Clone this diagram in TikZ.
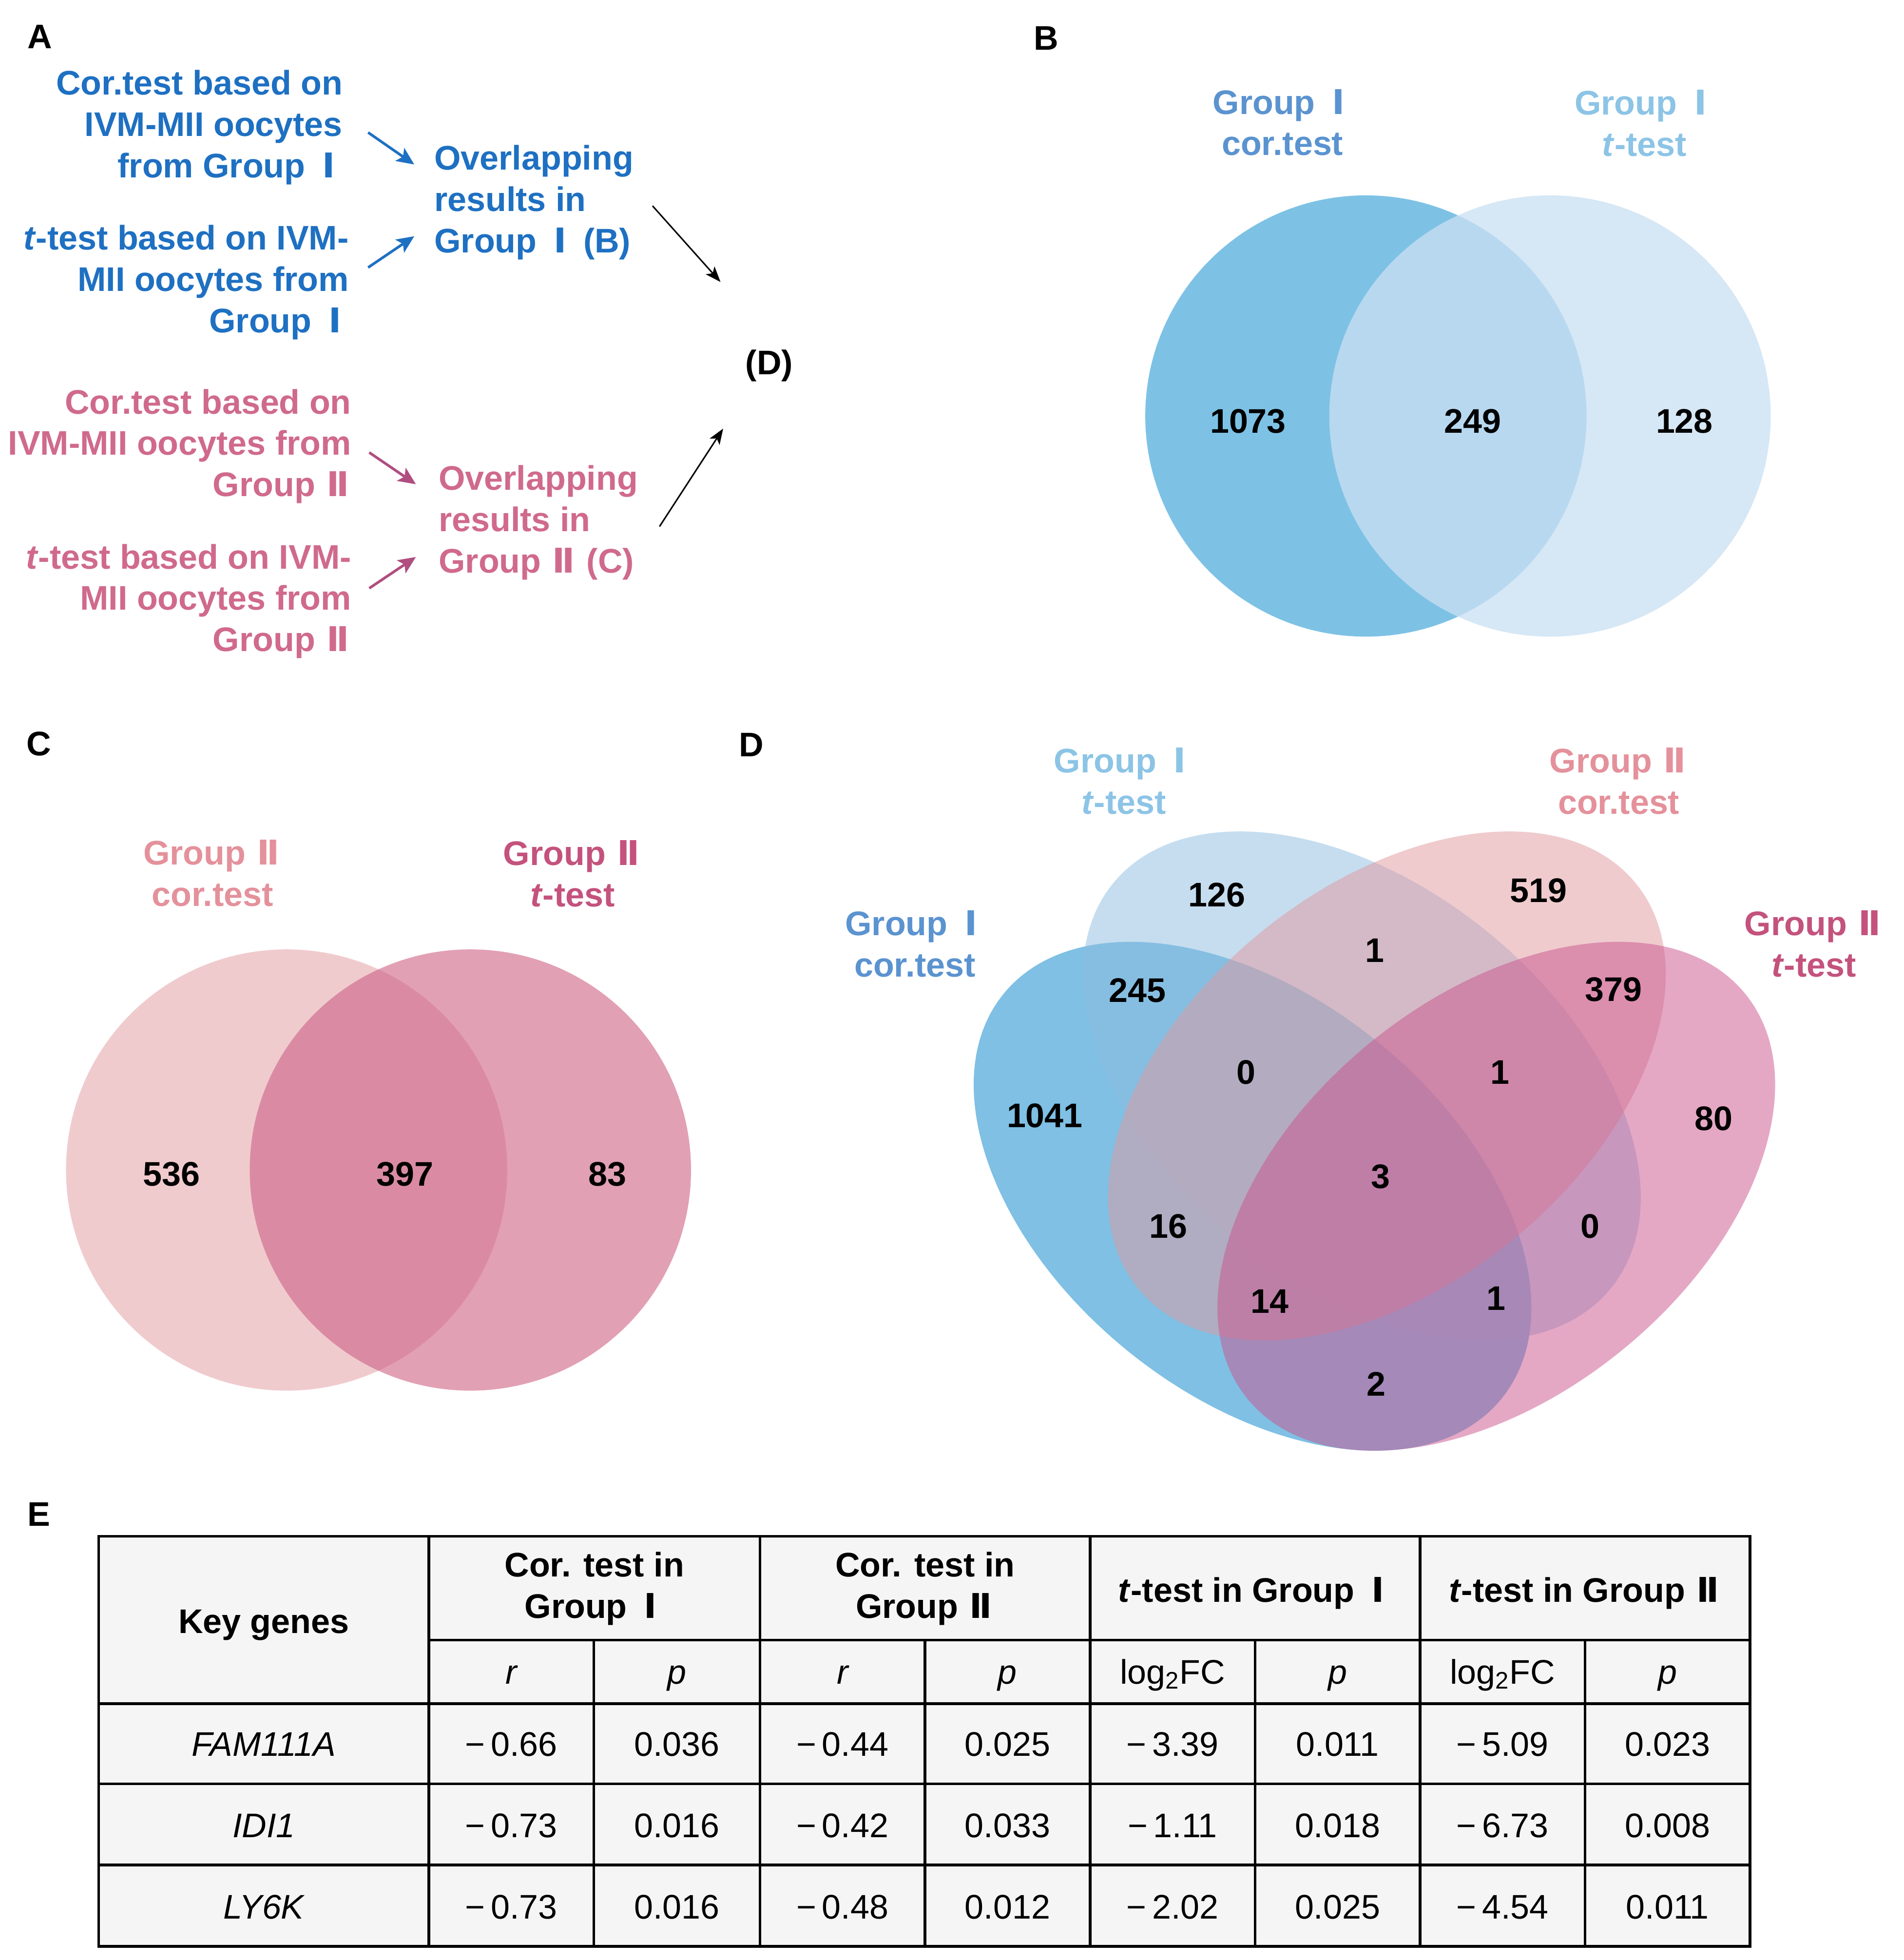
\documentclass[tikz,border=0pt]{standalone}
\usepackage{fontspec}
\setmainfont{Liberation Sans}
\newfontfamily\romfont{DejaVu Sans}
\usetikzlibrary{arrows.meta}
\newcommand{\romI}{\kern0.22em{\romfont Ⅰ}\kern0.22em}
\newcommand{\romII}{\kern0.06em{\romfont Ⅱ}\kern0.06em}
\definecolor{txtblue}{RGB}{30,112,194}
\definecolor{txtpink}{RGB}{208,106,140}
\definecolor{arrpink}{RGB}{176,78,128}
\definecolor{labblue}{RGB}{91,147,208}
\definecolor{lablight}{RGB}{140,196,230}
\definecolor{labpinkl}{RGB}{228,145,155}
\definecolor{labpinkd}{RGB}{196,82,125}
\definecolor{bL}{RGB}{125,194,229}
\definecolor{bR}{RGB}{214,231,245}
\definecolor{bO}{RGB}{184,216,239}
\definecolor{cL}{RGB}{240,203,206}
\definecolor{cR}{RGB}{226,160,181}
\definecolor{cO}{RGB}{218,139,163}
\definecolor{dA}{RGB}{0,131,203}
\definecolor{dB}{RGB}{141,189,225}
\definecolor{dC}{RGB}{225,153,159}
\definecolor{dD}{RGB}{203,83,141}
\definecolor{tabbg}{RGB}{245,245,245}
\begin{document}
\begin{tikzpicture}[x=0.6412pt,y=-0.6412pt,
  every node/.style={inner sep=0pt,outer sep=0pt},
  bf/.style={font=\bfseries\fontsize{17.5pt}{21.2pt}\selectfont},
  rg/.style={font=\fontsize{17.5pt}{21.2pt}\selectfont},
  num/.style={bf,text=black},
  arrBlue/.style={draw=txtblue,line width=1.35pt,-{Stealth[length=9pt,width=8pt,inset=2pt]}},
  arrPink/.style={draw=arrpink,line width=1.35pt,-{Stealth[length=9pt,width=8pt,inset=2pt]}},
  arrBlack/.style={draw=black,line width=0.75pt,-{Stealth[length=8pt,width=6pt,inset=2pt]}},
  tline/.style={draw=black,line width=1.4pt},
  cell/.style={rg,anchor=base},
  gene/.style={rg,anchor=base,font=\itshape\fontsize{17.5pt}{21.2pt}\selectfont}]
\fill[white] (0,0) rectangle (1523,1568);
\useasboundingbox (0,0) rectangle (1523,1568);

% ---------- panel letters ----------
\node[bf] (labA) at (31.8,29.6) {A};
\node[bf] (labB) at (836.8,30.6) {B};
\node[bf] (labC) at (31,595) {C};
\node[bf] (labD) at (601,596) {D};
\node[bf] (labE) at (31,1211.4) {E};

% ---------- panel A ----------
\node[bf,text=txtblue,align=right,anchor=east] (a1) at (274,102) {Cor.test based on\\IVM-MII oocytes\\from Group \romI};
\node[bf,text=txtblue,align=right,anchor=east] (a2) at (279,226) {\textit{t}-test based on IVM-\\MII oocytes from\\Group \romI};
\node[bf,text=txtblue,align=left,anchor=west] (b1) at (347.5,162) {Overlapping\\results in\\Group \romI\ (B)};
\node[bf,text=txtpink,align=right,anchor=east] (a3) at (281,357) {Cor.test based on\\IVM-MII oocytes from\\Group \romII};
\node[bf,text=txtpink,align=right,anchor=east] (a4) at (281,481) {\textit{t}-test based on IVM-\\MII oocytes from\\Group \romII};
\node[bf,text=txtpink,align=left,anchor=west] (c1) at (351,418) {Overlapping\\results in\\Group \romII\ (C)};
\node[bf] (d1) at (615.4,292.4) {(D)};

\coordinate (a1o) at (294.5,106);   \coordinate (b1i1) at (331.4,131.6);
\coordinate (a2o) at (294.5,214);   \coordinate (b1i2) at (331.4,189);
\coordinate (a3o) at (295.4,362);   \coordinate (c1i1) at (332.7,387.4);
\coordinate (a4o) at (295.4,470.6); \coordinate (c1i2) at (332.7,445.6);
\coordinate (b1o) at (522,164.7);   \coordinate (d1i1) at (576.4,225.6);
\coordinate (c1o) at (527.6,421.2); \coordinate (d1i2) at (578.5,342.9);
\draw[arrBlue] (a1o) -- (b1i1);
\draw[arrBlue] (a2o) -- (b1i2);
\draw[arrPink] (a3o) -- (c1i1);
\draw[arrPink] (a4o) -- (c1i2);
\draw[arrBlack] (b1o) -- (d1i1);
\draw[arrBlack] (c1o) -- (d1i2);

% ---------- panel B ----------
\fill[bL] (1092.7,332.8) circle (176.5);
\fill[bR] (1240,332.8) circle (176.5);
\begin{scope}
  \clip (1092.7,332.8) circle (176.5);
  \fill[bO] (1240,332.8) circle (176.5);
\end{scope}
\node[bf,text=labblue,align=center] (bl1) at (1026,98) {Group \romI\\cor.test};
\node[bf,text=lablight,align=center] (bl2) at (1315.5,98.5) {Group \romI\\\textit{t}-test};
\node[num] (bn1) at (998.4,337) {1073};
\node[num] (bn2) at (1178,337) {249};
\node[num] (bn3) at (1347.5,337) {128};

% ---------- panel C ----------
\fill[cL] (229.3,936) circle (176.5);
\fill[cR] (376.3,936) circle (176.5);
\begin{scope}
  \clip (229.3,936) circle (176.5);
  \fill[cO] (376.3,936) circle (176.5);
\end{scope}
\node[bf,text=labpinkl,align=center] (cl1) at (170,698.5) {Group \romII\\cor.test};
\node[bf,text=labpinkd,align=center] (cl2) at (458,699) {Group \romII\\\textit{t}-test};
\node[num] (cn1) at (137.2,939.5) {536};
\node[num] (cn2) at (323.8,939.5) {397};
\node[num] (cn3) at (486,939.5) {83};

% ---------- panel D ----------
\begin{scope}[fill opacity=0.5]
  \fill[dA,shift={(1002,957)},rotate=-39.1] (0,0) ellipse [x radius=256.7,y radius=159];
  \fill[dB,shift={(1089.5,868.7)},rotate=-39.1] (0,0) ellipse [x radius=256.7,y radius=159];
  \fill[dC,shift={(1109.5,868.7)},rotate=39.1] (0,0) ellipse [x radius=256.7,y radius=159];
  \fill[dD,shift={(1197,957)},rotate=39.1] (0,0) ellipse [x radius=256.7,y radius=159];
\end{scope}
\node[bf,text=lablight,align=center] (dl2) at (899,625) {Group \romI\\\textit{t}-test};
\node[bf,text=labpinkl,align=center] (dl3) at (1295,625) {Group \romII\\cor.test};
\node[bf,text=labblue,align=center] (dl1) at (732,755) {Group \romI\\cor.test};
\node[bf,text=labpinkd,align=center] (dl4) at (1451,755) {Group \romII\\\textit{t}-test};
\node[num] (dn1) at (973.3,715.8) {126};
\node[num] (dn2) at (1230.9,712.6) {519};
\node[num] (dn3) at (1099.9,760.4) {1};
\node[num] (dn4) at (909.8,792.2) {245};
\node[num] (dn5) at (1290.9,791.4) {379};
\node[num] (dn6) at (996.9,857.9) {0};
\node[num] (dn7) at (1199.9,857.9) {1};
\node[num] (dn8) at (835.8,892.5) {1041};
\node[num] (dn9) at (1370.9,894.9) {80};
\node[num] (dn10) at (1104.4,941.4) {3};
\node[num] (dn11) at (934.8,981.2) {16};
\node[num] (dn12) at (1271.9,981.2) {0};
\node[num] (dn13) at (1015.9,1040.9) {14};
\node[num] (dn14) at (1196.9,1038.9) {1};
\node[num] (dn15) at (1100.9,1107.3) {2};

% ---------- panel E (table) ----------
\fill[tabbg] (79,1229) rectangle (1400,1557);
\draw[tline] (79,1229) rectangle (1400,1557);
\foreach \x in {343,608,872,1136} \draw[tline] (\x,1229) -- (\x,1557);
\foreach \x in {475,740,1004,1268} \draw[tline] (\x,1312) -- (\x,1557);
\draw[tline] (343,1312) -- (1400,1312);
\foreach \y in {1363,1427,1492} \draw[tline] (79,\y) -- (1400,\y);

\node[bf,anchor=base] (kg) at (211,1306.5) {Key genes};
\node[bf,align=center] (h1) at (475.5,1271) {Cor. test in\\Group \romI};
\node[bf,align=center] (h2) at (740,1271) {Cor. test in\\Group \romII};
\node[bf,anchor=base] (h3) at (1004,1281.5) {\textit{t}-test in Group \romI};
\node[bf,anchor=base] (h4) at (1268,1281.5) {\textit{t}-test in Group \romII};

\node[gene] (s1) at (409,1347) {r};
\node[gene] (s2) at (541.5,1347) {p};
\node[gene] (s3) at (674,1347) {r};
\node[gene] (s4) at (806,1347) {p};
\node[cell] (s5) at (938,1347) {log\textsubscript{2}FC};
\node[gene] (s6) at (1070,1347) {p};
\node[cell] (s7) at (1202,1347) {log\textsubscript{2}FC};
\node[gene] (s8) at (1334,1347) {p};

\node[gene] (g1) at (211,1405) {FAM111A};
\node[gene] (g2) at (211,1470) {IDI1};
\node[gene] (g3) at (211,1535) {LY6K};

\node[cell] (r1c1) at (409,1405) {−\,0.66};
\node[cell] (r1c2) at (541.5,1405) {0.036};
\node[cell] (r1c3) at (674,1405) {−\,0.44};
\node[cell] (r1c4) at (806,1405) {0.025};
\node[cell] (r1c5) at (938,1405) {−\,3.39};
\node[cell] (r1c6) at (1070,1405) {0.011};
\node[cell] (r1c7) at (1202,1405) {−\,5.09};
\node[cell] (r1c8) at (1334,1405) {0.023};

\node[cell] (r2c1) at (409,1470) {−\,0.73};
\node[cell] (r2c2) at (541.5,1470) {0.016};
\node[cell] (r2c3) at (674,1470) {−\,0.42};
\node[cell] (r2c4) at (806,1470) {0.033};
\node[cell] (r2c5) at (938,1470) {−\,1.11};
\node[cell] (r2c6) at (1070,1470) {0.018};
\node[cell] (r2c7) at (1202,1470) {−\,6.73};
\node[cell] (r2c8) at (1334,1470) {0.008};

\node[cell] (r3c1) at (409,1535) {−\,0.73};
\node[cell] (r3c2) at (541.5,1535) {0.016};
\node[cell] (r3c3) at (674,1535) {−\,0.48};
\node[cell] (r3c4) at (806,1535) {0.012};
\node[cell] (r3c5) at (938,1535) {−\,2.02};
\node[cell] (r3c6) at (1070,1535) {0.025};
\node[cell] (r3c7) at (1202,1535) {−\,4.54};
\node[cell] (r3c8) at (1334,1535) {0.011};
\end{tikzpicture}
\end{document}
